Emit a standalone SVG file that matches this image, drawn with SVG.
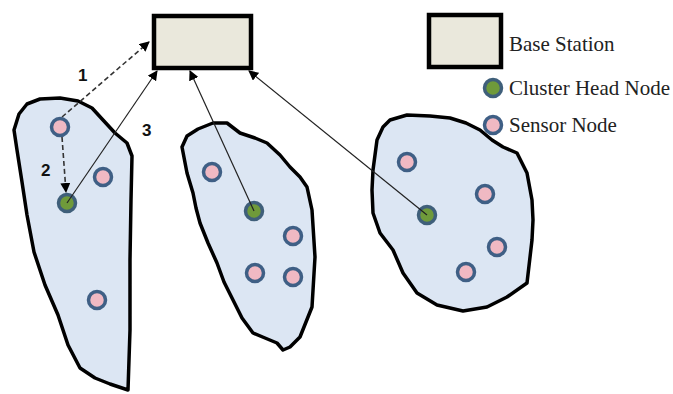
<svg xmlns="http://www.w3.org/2000/svg" width="673" height="394" viewBox="0 0 673 394">
<defs>
<style>
.blob{fill:#dce6f3;stroke:#000;stroke-width:3.5;stroke-linejoin:round}
.bs{fill:#eae8dc;stroke:#000;stroke-width:4.5}
.sn{fill:#f0b9c3;stroke:#3f5f85;stroke-width:3.5}
.ch{fill:#6f9a3a;stroke:#3f5f7a;stroke-width:3.5}
.ln{stroke:#222;stroke-width:1.2;fill:none}
.dl{stroke:#333;stroke-width:1.6;fill:none;stroke-dasharray:5 3}
.lg{font-family:"Liberation Serif",serif;font-size:21px;fill:#222}
.num{font-family:"Liberation Sans",sans-serif;font-size:17px;font-weight:bold;fill:#111}
</style>
<marker id="ah" viewBox="0 0 10 10" refX="9" refY="5" markerWidth="10" markerHeight="10" markerUnits="userSpaceOnUse" orient="auto">
<path d="M0,0 L10,5 L0,10 Z" fill="#000"/>
</marker>
</defs>
<g id="cluster1">
<path class="blob" d="M14,130 L19,114 L27,104 L40,99 L60,98 L78,101 L92,108 L103,120 L115,133 L127,143 L132,156 L131,200 L130,260 L130,330 L128,390 L110,384 L95,378 L80,368 L68,345 L58,315 L45,285 L34,252 L27,215 L22,182 L17,150 Z"/>
<circle class="sn" cx="60" cy="127" r="8.5"/>
<circle class="sn" cx="103" cy="177" r="8.5"/>
<circle class="ch" cx="67" cy="203" r="8.5"/>
<circle class="sn" cx="97" cy="300" r="8.5"/>
</g>
<g id="cluster2">
<path class="blob" d="M182,147 L187,136 L198,129 L213,123 L227,123 L240,133 L255,138 L267,143 L280,155 L290,167 L300,177 L307,187 L312,210 L315,257 L312,307 L300,337 L290,347 L283,350 L277,343 L265,338 L253,333 L242,318 L233,300 L224,282 L217,263 L208,243 L200,223 L196,208 L193,193 L187,173 Z"/>
<circle class="sn" cx="212" cy="172" r="8.5"/>
<circle class="ch" cx="254" cy="211" r="8.5"/>
<circle class="sn" cx="293" cy="236" r="8.5"/>
<circle class="sn" cx="255" cy="273" r="8.5"/>
<circle class="sn" cx="293" cy="277" r="8.5"/>
</g>
<g id="cluster3">
<path class="blob" d="M377,140 L383,127 L390,120 L407,115 L430,116 L450,118 L466,123 L480,130 L492,140 L503,147 L517,153 L527,173 L532,200 L533,220 L532,240 L527,283 L507,297 L487,307 L463,311 L437,305 L417,293 L403,273 L393,250 L380,233 L373,213 L372,190 L373,170 Z"/>
<circle class="sn" cx="407" cy="162" r="8.5"/>
<circle class="sn" cx="485" cy="194" r="8.5"/>
<circle class="ch" cx="427" cy="215" r="8.5"/>
<circle class="sn" cx="497" cy="247" r="8.5"/>
<circle class="sn" cx="466" cy="272" r="8.5"/>
</g>
<g id="base-station">
<rect class="bs" x="154" y="16" width="97" height="52"/>
</g>
<g id="connectors">
<line class="dl" x1="62" y1="117" x2="149" y2="42" marker-end="url(#ah)"/>
<line class="dl" x1="62" y1="137" x2="66" y2="192" marker-end="url(#ah)"/>
<line class="ln" x1="67" y1="203" x2="157" y2="71" marker-end="url(#ah)"/>
<line class="ln" x1="254" y1="211" x2="190" y2="71" marker-end="url(#ah)"/>
<line class="ln" x1="427" y1="215" x2="249" y2="71" marker-end="url(#ah)"/>
</g>
<g id="labels">
<text class="num" x="78" y="81">1</text>
<text class="num" x="41" y="176">2</text>
<text class="num" x="142" y="136">3</text>
</g>
<g id="legend">
<rect class="bs" x="429" y="15" width="72" height="52"/>
<circle class="ch" cx="493" cy="88" r="8.5"/>
<circle class="sn" cx="493" cy="125" r="8.5"/>
<text class="lg" x="509" y="51">Base Station</text>
<text class="lg" x="509" y="95">Cluster Head Node</text>
<text class="lg" x="509" y="132">Sensor Node</text>
</g>
</svg>
